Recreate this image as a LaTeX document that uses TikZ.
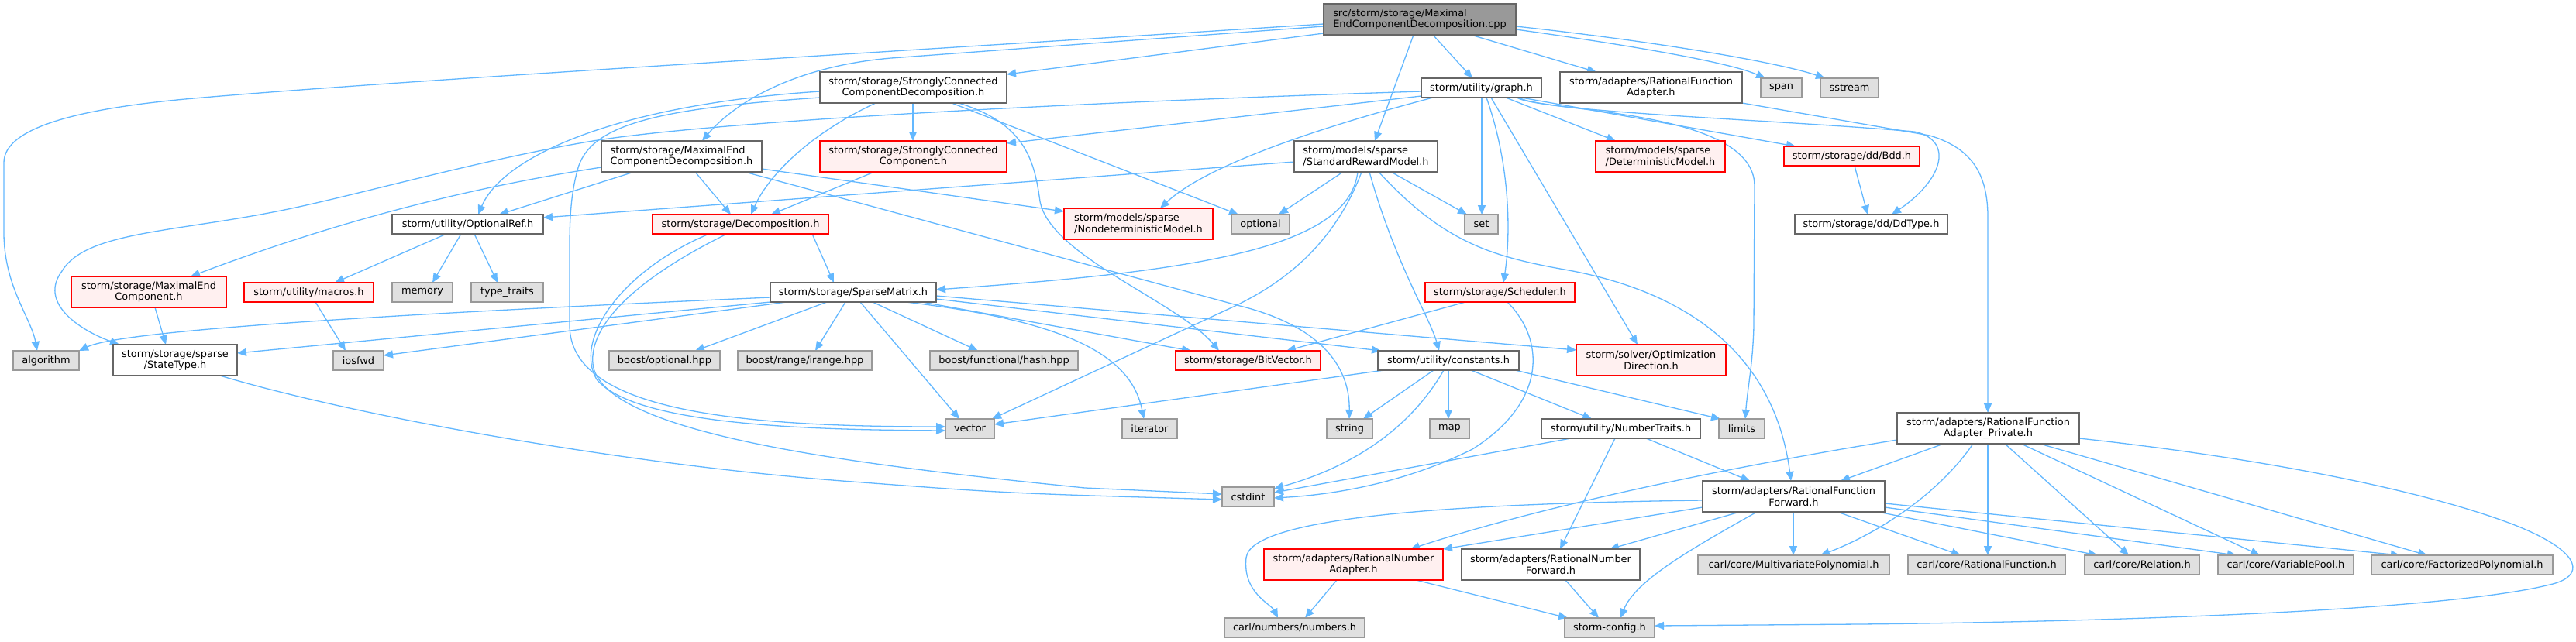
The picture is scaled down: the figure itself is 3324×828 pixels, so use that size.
\documentclass[tikz,border=0pt]{standalone}
\usepackage{fontspec}
\setmainfont{DejaVu Sans}
\usetikzlibrary{arrows.meta}
\definecolor{edgec}{HTML}{63B8FF}
\definecolor{grayb}{HTML}{999999}
\definecolor{grayf}{HTML}{E0E0E0}
\definecolor{darkb}{HTML}{666666}
\definecolor{redf}{HTML}{FFF0F0}
\definecolor{redb}{HTML}{FF0000}
\pgfdeclarelayer{bg}
\pgfdeclarelayer{edges}
\pgfsetlayers{bg,edges,main}
\newcommand{\mknode}[7]{\node[#1, minimum width=#5pt, minimum height=#6pt] (#2) at (#3,#4) {#7};}
\begin{document}
\begin{tikzpicture}[x=1pt,y=-1pt,
 nb/.style={rectangle, inner sep=0pt, outer sep=0pt, line width=1.2pt, font=\fontsize{12.9}{14.7}\selectfont, text=black, align=center},
 wn/.style={nb, draw=darkb, fill=white},
 gn/.style={nb, draw=grayb, fill=grayf},
 rn/.style={nb, draw=redb, fill=redf},
 mn/.style={nb, draw=darkb, fill=grayb},
 edg/.style={draw=edgec, line width=1.3pt, -{Triangle[length=12pt,width=10pt]}},
]
\useasboundingbox (0,0) rectangle (3324,828);
\begin{pgfonlayer}{bg}\fill[white] (0,0) rectangle (3324,828);\end{pgfonlayer}

% ---------- nodes ----------
\mknode{mn, align=left}{main}{1832}{25}{248}{40}{src/storm/storage/Maximal\\EndComponentDecomposition.cpp}
\mknode{wn}{graph}{1911.5}{113.5}{155}{25}{storm/utility/graph.h}
\mknode{wn}{rfa}{2130.5}{113}{235}{40}{storm/adapters/RationalFunction\\Adapter.h}
\mknode{gn}{span}{2298.5}{113.5}{53}{25}{span}
\mknode{gn}{sstream}{2386.5}{113.5}{75}{25}{sstream}
\mknode{wn}{sccd}{1178.5}{113}{241}{40}{storm/storage/StronglyConnected\\ComponentDecomposition.h}
\mknode{wn, align=left}{mecd}{879.5}{202}{207}{40}{storm/storage/MaximalEnd\\ComponentDecomposition.h}
\mknode{rn}{scc}{1178.5}{202}{241}{40}{storm/storage/StronglyConnected\\Component.h}
\mknode{wn, align=left}{srm}{1762.5}{202}{185}{40}{storm/models/sparse\\/StandardRewardModel.h}
\mknode{rn, align=left}{detm}{2142.5}{202}{167}{40}{storm/models/sparse\\/DeterministicModel.h}
\mknode{rn}{bdd}{2389.5}{201.5}{175}{25}{storm/storage/dd/Bdd.h}
\mknode{wn}{optref}{603.5}{289.5}{195}{25}{storm/utility/OptionalRef.h}
\mknode{rn}{decomp}{955.5}{289.5}{227}{25}{storm/storage/Decomposition.h}
\mknode{rn, align=left}{nondet}{1469}{289}{192}{40}{storm/models/sparse\\/NondeterministicModel.h}
\mknode{gn}{optional}{1626.5}{289.5}{75}{25}{optional}
\mknode{gn}{set}{1911.5}{289.5}{43}{25}{set}
\mknode{wn}{ddtype}{2414.5}{289.5}{197}{25}{storm/storage/dd/DdType.h}
\mknode{rn}{mec}{192}{377}{200}{40}{storm/storage/MaximalEnd\\Component.h}
\mknode{rn}{macros}{398.5}{377.5}{167}{25}{storm/utility/macros.h}
\mknode{gn}{memory}{545}{377.5}{78}{25}{memory}
\mknode{gn}{typetraits}{654.5}{377.5}{93}{25}{type\_traits}
\mknode{wn}{sparse}{1101}{377.5}{214}{25}{storm/storage/SparseMatrix.h}
\mknode{rn}{sched}{1935.5}{377.5}{193}{25}{storm/storage/Scheduler.h}
\mknode{gn}{algorithm}{59.5}{465.5}{85}{25}{algorithm}
\mknode{wn}{statetype}{226}{465}{160}{40}{storm/storage/sparse\\/StateType.h}
\mknode{gn}{iosfwd}{462.5}{465.5}{65}{25}{iosfwd}
\mknode{gn}{boostopt}{857.5}{465.5}{143}{25}{boost/optional.hpp}
\mknode{gn}{irange}{1038.5}{465.5}{173}{25}{boost/range/irange.hpp}
\mknode{gn}{hash}{1295.5}{465.5}{191}{25}{boost/functional/hash.hpp}
\mknode{rn}{bitvec}{1610.5}{465.5}{187}{25}{storm/storage/BitVector.h}
\mknode{wn}{constants}{1869}{465.5}{182}{25}{storm/utility/constants.h}
\mknode{rn}{optdir}{2130.5}{465}{193}{40}{storm/solver/Optimization\\Direction.h}
\mknode{gn}{vector}{1251.5}{553.5}{63}{25}{vector}
\mknode{gn}{iterator}{1483.5}{553.5}{71}{25}{iterator}
\mknode{gn}{string}{1741.5}{553.5}{59}{25}{string}
\mknode{gn}{map}{1870.5}{553.5}{51}{25}{map}
\mknode{wn}{numtraits}{2091.5}{553.5}{205}{25}{storm/utility/NumberTraits.h}
\mknode{gn}{limits}{2247.5}{553.5}{59}{25}{limits}
\mknode{wn}{rfap}{2565.5}{553}{235}{40}{storm/adapters/RationalFunction\\Adapter\_Private.h}
\mknode{gn}{cstdint}{1610.5}{641.5}{67}{25}{cstdint}
\mknode{wn}{rff}{2314.5}{641}{235}{40}{storm/adapters/RationalFunction\\Forward.h}
\mknode{rn}{rna}{1746.5}{729}{231}{40}{storm/adapters/RationalNumber\\Adapter.h}
\mknode{wn}{rnf}{2001}{729}{230}{40}{storm/adapters/RationalNumber\\Forward.h}
\mknode{gn}{mvp}{2314.5}{729.5}{247}{25}{carl/core/MultivariatePolynomial.h}
\mknode{gn}{rf}{2563.5}{729.5}{203}{25}{carl/core/RationalFunction.h}
\mknode{gn}{rel}{2764}{729.5}{148}{25}{carl/core/Relation.h}
\mknode{gn}{vp}{2949.5}{729.5}{175}{25}{carl/core/VariablePool.h}
\mknode{gn}{fp}{3177}{729.5}{234}{25}{carl/core/FactorizedPolynomial.h}
\mknode{gn}{numbers}{1670.5}{810.5}{181}{25}{carl/numbers/numbers.h}
\mknode{gn}{config}{2077}{810.5}{116}{25}{storm-config.h}

% ---------- edges ----------
\begin{pgfonlayer}{edges}
% main
\draw[edg] (main.west |- 0,31) .. controls (1100,70) and (500,105) .. (250,127) .. controls (100,140) and (5,165) .. (5,210) -- (5,300) .. controls (5,370) and (40,410) .. (algorithm.north -| 48,0);
\draw[edg] (main.west |- 0,34) -- (1150,75) .. controls (1030,85) and (950,130) .. (mecd.north -| 906,0);
\draw[edg] (main.west |- 0,43) -- (sccd.east |- 0,96);
\draw[edg] (main.south -| 1824,0) -- (srm.north -| 1774,0);
\draw[edg] (main.south -| 1849,0) -- (graph.north -| 1900,0);
\draw[edg] (main.south -| 1898,0) -- (rfa.north -| 2060,0);
\draw[edg] (main.east |- 0,38) .. controls (2100,58) and (2230,80) .. (span.north -| 2278,0);
\draw[edg] (main.east |- 0,34) .. controls (2150,55) and (2300,82) .. (sstream.north -| 2355,0);
% graph
\draw[edg] (graph.west |- 0,118) .. controls (1300,135) and (900,160) .. (765,182) .. controls (620,206) and (450,255) .. (357,273) .. controls (220,300) and (110,300) .. (80,350) .. controls (50,390) and (100,425) .. (statetype.north -| 154,0);
\draw[edg] (graph.west |- 0,124) -- (scc.east |- 0,185);
\draw[edg] (graph.south -| 1849,0) .. controls (1720,160) and (1560,210) .. (nondet.north -| 1497,0);
\draw[edg] (graph.south -| 1912,0) -- (set.north -| 1912,0);
\draw[edg] (graph.south -| 1918,0) .. controls (1948,210) and (1950,300) .. (sched.north -| 1940,0);
\draw[edg] (graph.south -| 1924,0) -- (optdir.north -| 2113,0);
\draw[edg] (graph.south -| 1943,0) -- (detm.north -| 2085,0);
\draw[edg] (graph.south -| 1963,0) -- (bdd.north -| 2317,0);
\draw[edg] (graph.south -| 1960,0) .. controls (1990,145) and (2300,155) .. (2470,170) .. controls (2520,180) and (2510,230) .. (ddtype.north -| 2441,0);
\draw[edg] (graph.south -| 1957,0) .. controls (1990,145) and (2264,140) .. (2264,240) -- (2263,420) .. controls (2262,470) and (2255,500) .. (limits.north -| 2252,0);
% rfa
\draw[edg] (rfa.south east) -- (2490,175) .. controls (2540,190) and (2565,220) .. (2565,280) -- (rfap.north -| 2565,0);
% sccd
\draw[edg] (sccd.south -| 1178,0) -- (scc.north -| 1178,0);
\draw[edg] (sccd.south -| 1130,0) .. controls (1040,175) and (990,230) .. (decomp.north -| 969,0);
\draw[edg] (sccd.south -| 1228,0) -- (optional.north -| 1598,0);
\draw[edg] (sccd.south -| 1237,0) .. controls (1325,160) and (1335,210) .. (1342,260) .. controls (1355,330) and (1520,390) .. (bitvec.north -| 1573,0);
\draw[edg] (sccd.west |- 0,118) .. controls (800,135) and (650,200) .. (optref.north -| 617,0);
\draw[edg] (sccd.west |- 0,126) .. controls (850,140) and (760,160) .. (745,220) .. controls (737,250) and (735,280) .. (735,320) -- (735,420) .. controls (735,530) and (950,551) .. (vector.west |- 0,551);
% decomp
\draw[edg] (decomp.south -| 1048,0) -- (sparse.north -| 1076,0);
\draw[edg] (decomp.south -| 915,0) .. controls (800,350) and (740,440) .. (770,490) .. controls (820,550) and (1050,555) .. (vector.west |- 0,556);
\draw[edg] (decomp.south -| 938,0) .. controls (820,360) and (760,420) .. (765,470) .. controls (775,560) and (1100,600) .. (1400,630) -- (cstdint.west |- 0,638);
% optref
\draw[edg] (optref.south -| 576,0) -- (macros.north -| 432,0);
\draw[edg] (optref.south -| 595,0) -- (memory.north -| 558,0);
\draw[edg] (optref.south -| 612,0) -- (typetraits.north -| 642,0);
% mecd
\draw[edg] (mecd.west |- 0,216) .. controls (620,240) and (450,280) .. (mec.north -| 246,0);
\draw[edg] (mecd.south -| 818,0) -- (optref.north -| 644,0);
\draw[edg] (mecd.south -| 897,0) -- (decomp.north -| 943,0);
\draw[edg] (mecd.east |- 0,218) -- (nondet.west |- 0,273);
\draw[edg] (mecd.south -| 961,0) -- (1600,395) .. controls (1700,420) and (1742,470) .. (string.north -| 1741,0);
% scc
\draw[edg] (scc.south -| 1128,0) -- (decomp.north -| 995,0);
% srm
\draw[edg] (srm.west |- 0,209) -- (optref.east |- 0,281);
\draw[edg] (srm.south -| 1752,0) .. controls (1740,320) and (1550,350) .. (sparse.east |- 0,374);
\draw[edg] (srm.south -| 1733,0) -- (optional.north -| 1650,0);
\draw[edg] (srm.south -| 1795,0) -- (set.north -| 1893,0);
\draw[edg] (srm.south -| 1757,0) .. controls (1720,320) and (1650,370) .. (1583,400) -- (vector.north -| 1280,0);
\draw[edg] (srm.south -| 1767,0) .. controls (1800,340) and (1845,410) .. (constants.north -| 1857,0);
\draw[edg] (srm.south -| 1779,0) .. controls (1860,310) and (1920,330) .. (2013,347) .. controls (2180,375) and (2290,460) .. (rff.north -| 2311,0);
% sparse
\draw[edg] (sparse.west |- 0,384) .. controls (400,410) and (150,430) .. (algorithm.north east);
\draw[edg] (sparse.south west) -- (statetype.east |- 0,456);
\draw[edg] (sparse.south -| 1015,0) -- (iosfwd.east |- 0,459);
\draw[edg] (sparse.south -| 1067,0) -- (boostopt.north -| 897,0);
\draw[edg] (sparse.south -| 1091,0) -- (irange.north -| 1052,0);
\draw[edg] (sparse.south -| 1110,0) -- (vector.north -| 1238,0);
\draw[edg] (sparse.south -| 1126,0) -- (hash.north -| 1262,0);
\draw[edg] (sparse.south -| 1169,0) .. controls (1380,415) and (1460,460) .. (iterator.north -| 1476,0);
\draw[edg] (sparse.south -| 1190,0) -- (bitvec.north -| 1537,0);
\draw[edg] (sparse.east |- 0,386) -- (constants.north -| 1782,0);
\draw[edg] (sparse.east |- 0,382) -- (optdir.west |- 0,452);
% small ones
\draw[edg] (mec.south -| 200,0) -- (statetype.north -| 214,0);
\draw[edg] (macros.south -| 407,0) -- (iosfwd.north -| 446,0);
\draw[edg] (statetype.south -| 284,0) .. controls (450,535) and (800,600) .. (1100,622) .. controls (1300,637) .. (cstdint.west |- 0,645);
% sched
\draw[edg] (sched.south -| 1891,0) -- (bitvec.north -| 1660,0);
\draw[edg] (sched.south -| 1945,0) .. controls (1995,440) and (1995,520) .. (1900,580) .. controls (1800,630) and (1700,640) .. (cstdint.east |- 0,643);
% constants
\draw[edg] (constants.south -| 1786,0) -- (vector.east |- 0,548);
\draw[edg] (constants.south -| 1850,0) -- (string.north -| 1759,0);
\draw[edg] (constants.south -| 1869,0) -- (map.north -| 1869,0);
\draw[edg] (constants.south -| 1863,0) .. controls (1810,570) and (1720,610) .. (cstdint.east |- 0,631);
\draw[edg] (constants.south -| 1898,0) -- (numtraits.north -| 2054,0);
\draw[edg] (constants.south -| 1955,0) -- (limits.north -| 2220,0);
% numtraits
\draw[edg] (numtraits.south -| 2027,0) -- (cstdint.east |- 0,636);
\draw[edg] (numtraits.south -| 2084,0) -- (rnf.north -| 2013,0);
\draw[edg] (numtraits.south -| 2124,0) -- (rff.north -| 2258,0);
% rfap
\draw[edg] (rfap.south -| 2508,0) -- (rff.north -| 2375,0);
\draw[edg] (rfap.west |- 0,568) .. controls (2250,600) and (2000,650) .. (rna.north -| 1820,0);
\draw[edg] (rfap.south -| 2546,0) .. controls (2500,640) and (2420,690) .. (mvp.north -| 2349,0);
\draw[edg] (rfap.south -| 2565,0) -- (rf.north -| 2565,0);
\draw[edg] (rfap.south -| 2587,0) -- (rel.north -| 2747,0);
\draw[edg] (rfap.south -| 2608,0) -- (vp.north -| 2916,0);
\draw[edg] (rfap.south -| 2632,0) -- (fp.north -| 3132,0);
\draw[edg] (rfap.east |- 0,566) .. controls (2950,595) and (3150,640) .. (3250,680) .. controls (3335,715) and (3335,745) .. (3290,755) .. controls (3150,790) and (2700,803) .. (2400,806) -- (config.east |- 0,808);
% rff
\draw[edg] (rff.west |- 0,655) -- (rna.north east);
\draw[edg] (rff.south -| 2245,0) -- (rnf.north -| 2077,0);
\draw[edg] (rff.south -| 2267,0) .. controls (2180,710) and (2110,750) .. (config.north -| 2091,0);
\draw[edg] (rff.west |- 0,646) .. controls (1900,650) and (1615,665) .. (1608,720) .. controls (1603,765) and (1640,780) .. (numbers.north -| 1649,0);
\draw[edg] (rff.south -| 2314,0) -- (mvp.north -| 2314,0);
\draw[edg] (rff.south -| 2371,0) -- (rf.north -| 2530,0);
\draw[edg] (rff.south -| 2423,0) -- (rel.north -| 2707,0);
\draw[edg] (rff.east |- 0,655) -- (vp.north -| 2886,0);
\draw[edg] (rff.east |- 0,650) -- (fp.north -| 3097,0);
% rna, rnf, bdd
\draw[edg] (rna.south -| 1725,0) -- (numbers.north -| 1684,0);
\draw[edg] (rna.south -| 1827,0) -- (config.north -| 2023,0);
\draw[edg] (rnf.south -| 2020,0) -- (config.north -| 2063,0);
\draw[edg] (bdd.south -| 2393,0) -- (ddtype.north -| 2410,0);
\end{pgfonlayer}
\end{tikzpicture}
\end{document}
